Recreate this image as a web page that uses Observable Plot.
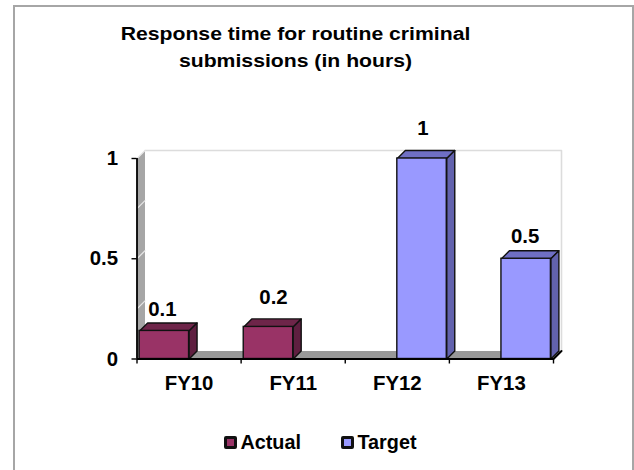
<!DOCTYPE html>
<html>
<head>
<meta charset="utf-8">
<script src="https://cdn.jsdelivr.net/npm/d3@7"></script>
<script src="https://cdn.jsdelivr.net/npm/@observablehq/plot@0.6"></script>
<style>
  html, body { margin: 0; padding: 0; background: #fff; }
  body { width: 634px; height: 470px; overflow: hidden; position: relative;
         font-family: "Liberation Sans", Arial, sans-serif; font-weight: bold; color: #000; }
  #frame { position: absolute; left: 13px; top: 5px; width: 621px; height: 470px;
           border-left: 2px solid #a6a6a6; border-top: 2px solid #a6a6a6; border-right: 2px solid #a6a6a6; box-sizing: border-box; pointer-events: none; }
  #title { position: absolute; left: 0; top: 20.5px; width: 591px; text-align: center;
           font-size: 21.2px; line-height: 29.5px; transform: scaleY(0.88); transform-origin: 0 0; white-space: nowrap; }
  #chart { position: absolute; left: 0; top: 85px; }
  #legend { position: absolute; left: 0; top: 432px; height: 20px; width: 100%; font-size: 19.8px; line-height: 20px; }
  .key { position: absolute; top: 0; display: block; }
  .sw { position: absolute; top: 3.5px; left: 0; width: 13px; height: 13px; border: 3px solid #111; border-radius: 2px; box-sizing: border-box; }
  .lab { position: absolute; left: 16.5px; top: 0; white-space: nowrap; }
</style>
</head>
<body>
<div id="frame"></div>
<div id="title">Response time for routine criminal<br>submissions (in hours)</div>
<div id="chart"></div>
<div id="legend"></div>
<script>
// ---- data ----
const categories = ["FY10", "FY11", "FY12", "FY13"];
const actual = [0.14, 0.16, null, null];
const target = [null, null, 1, 0.5];
const dataLabels = ["0.1", "0.2", "1", "0.5"];
const yTicks = [0, 0.5, 1];
const seriesNames = ["Actual", "Target"];

// ---- style and layout ----
const colors = {
  Actual: {front: "#993366", top: "#6e2549", side: "#5f1f40"},
  Target: {front: "#9999ff", top: "#6f6fc4", side: "#6262ad"}
};
const W = 634, H = 315;
const margins = {left: 136.5, right: 81, top: 73, bottom: 41.5};
const depthPx = 8;
const depthX = depthPx * 4 / (W - margins.left - margins.right);
const depthY = depthPx / (H - margins.top - margins.bottom);
const slot = {Actual: [0.025, 0.5], Target: [0.5, 0.975]};
const nudge = [[-2, -21], [5, -29], [1, -30], [-1, -22]];
const fontSize = 20.4;

// ---- derived tables ----
const bars = [];
categories.forEach((c, i) => {
  seriesNames.forEach((s) => {
    const v = (s === "Actual" ? actual : target)[i];
    if (v != null) bars.push({c, i, s, v, x1: i + slot[s][0], x2: i + slot[s][1]});
  });
});
const poly = (id, pts) => pts.map(([x, y]) => ({id, x, y}));
const topFace = (b) => poly("t" + b.i, [[b.x1, b.v], [b.x1 + depthX, b.v + depthY], [b.x2 + depthX, b.v + depthY], [b.x2, b.v], [b.x1, b.v]]);
const sideFace = (b) => poly("s" + b.i, [[b.x2, 0], [b.x2 + depthX, depthY], [b.x2 + depthX, b.v + depthY], [b.x2, b.v], [b.x2, 0]]);
const faceMark = (rows, fill) => Plot.line(rows, {x: "x", y: "y", z: "id", fill, stroke: "#111", strokeWidth: 1.4, strokeLinejoin: "round", clip: false});

const wall = poly("wall", [[0, 0], [depthX, depthY], [depthX, 1 + depthY], [0, 1], [0, 0]]);
const floor = poly("floor", [[0, 0], [depthX, depthY], [4 + depthX, depthY], [4, 0], [0, 0]]);
const wallLines = [0.25, 0.5, 0.75, 1].flatMap((v) => poly("g" + v, [[0, v], [depthX, v + depthY]]));
const backLines = poly("back", [[depthX, 1 + depthY], [4 + depthX, 1 + depthY], [4 + depthX, depthY]]);

const labelRows = bars.map((b, k) => ({
  label: dataLabels[b.i], x: (b.x1 + b.x2) / 2, y: b.v, dx: nudge[k][0], dy: nudge[k][1]
}));

const plot = Plot.plot({
  width: W, height: H,
  marginLeft: margins.left, marginRight: margins.right, marginTop: margins.top, marginBottom: margins.bottom,
  style: {background: "transparent", overflow: "visible"},
  x: {type: "linear", domain: [0, 4], label: null},
  y: {type: "linear", domain: [0, 1], label: null},
  marks: [
    Plot.line(backLines, {x: "x", y: "y", z: "id", stroke: "#dcdcdc", strokeWidth: 1.6}),
    Plot.line(floor, {x: "x", y: "y", z: "id", fill: "#999999", stroke: "none"}),
    Plot.line(wall, {x: "x", y: "y", z: "id", fill: "#a6a6a6", stroke: "none"}),
    Plot.line(wallLines, {x: "x", y: "y", z: "id", stroke: "#e6e6e6", strokeWidth: 1.2}),
    Plot.line(poly("end", [[4, 0], [4 + depthX, depthY]]), {x: "x", y: "y", z: "id", stroke: "#000", strokeWidth: 2}),
    ...bars.flatMap((b) => [
      faceMark(topFace(b), colors[b.s].top),
      faceMark(sideFace(b), colors[b.s].side),
      Plot.rect([b], {x1: "x1", x2: "x2", y1: 0, y2: "v", fill: colors[b.s].front, stroke: "#111", strokeWidth: 1.4})
    ]),
    Plot.ruleX([0], {y1: 0, y2: 1, stroke: "#000", strokeWidth: 1.8}),
    Plot.ruleY([0], {x1: 0, x2: 4, stroke: "#000", strokeWidth: 1.8}),
    Plot.axisY({
      ticks: yTicks, tickSize: 5, tickPadding: 14, tickFormat: (d) => String(d),
      fontSize, fontWeight: "bold", anchor: "left", label: null, stroke: "#000", strokeWidth: 1.4
    }),
    Plot.axisX({ticks: [0, 1, 2, 3, 4], tickSize: 5, tickFormat: () => "", anchor: "bottom", label: null, stroke: "#000", strokeWidth: 1.4}),
    Plot.axisX({
      ticks: categories.map((c, i) => i + 0.5), tickSize: 0, tickPadding: 16.5,
      tickFormat: (d) => categories[d - 0.5], fontSize, fontWeight: "bold", anchor: "bottom", label: null
    }),
    ...labelRows.map((r) => Plot.text([r], {
      x: "x", y: "y", text: "label", dx: r.dx, dy: r.dy,
      fontSize, fontWeight: "bold", fill: "#000"
    }))
  ]
});
plot.style.fontFamily = '"Liberation Sans", Arial, sans-serif';
document.getElementById("chart").appendChild(plot);

// ---- legend ----
const legend = document.getElementById("legend");
const keyLeft = {Actual: 224, Target: 341};
seriesNames.forEach((s) => {
  const k = document.createElement("div");
  k.className = "key";
  k.style.left = keyLeft[s] + "px";
  const sw = document.createElement("span");
  sw.className = "sw";
  sw.style.background = colors[s].front;
  const t = document.createElement("span");
  t.className = "lab";
  t.textContent = s;
  k.append(sw, t);
  legend.appendChild(k);
});
</script>
</body>
</html>
